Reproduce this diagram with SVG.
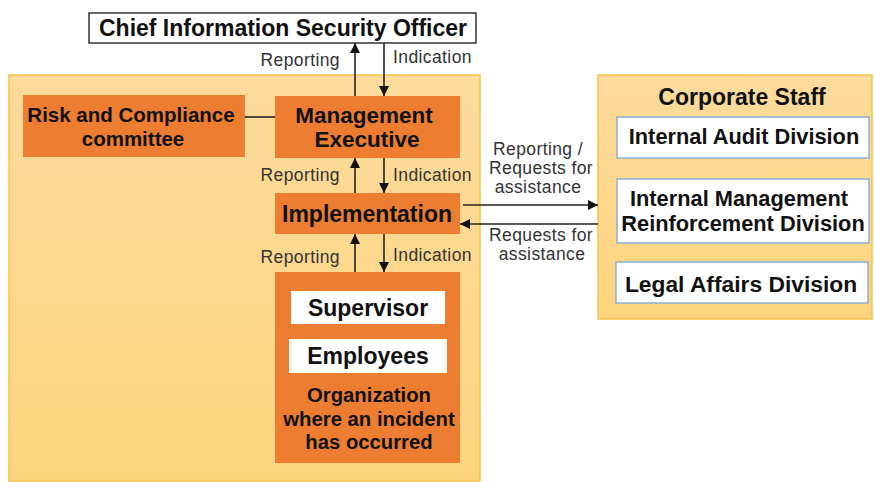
<svg xmlns="http://www.w3.org/2000/svg" width="875" height="482" viewBox="0 0 875 482">
<defs>
<linearGradient id="bg" x1="0" y1="0" x2="0" y2="1">
<stop offset="0" stop-color="#fddb9c"/>
<stop offset="1" stop-color="#fdd47e"/>
</linearGradient>
<marker id="ah" viewBox="0 0 10 10" refX="10" refY="5" markerWidth="10" markerHeight="10" markerUnits="userSpaceOnUse" orient="auto">
<path d="M0,0 L10,5 L0,10 Z" fill="#111"/>
</marker>
<style>
.cont{fill:url(#bg);stroke:#f8c24a;stroke-width:1.5}
.org{fill:#ed7d31}
.wb{fill:#fff}
.wbb{fill:#fff;stroke:#8cb0d6;stroke-width:1.5}
.t{font-family:"Liberation Sans",Arial,sans-serif;font-weight:bold;fill:#111;text-anchor:middle}
.lb{font-family:"Liberation Sans",Arial,sans-serif;font-size:17.5px;letter-spacing:0.4px;fill:#333}
.c{stroke:#222;stroke-width:1.6;fill:none}
.ca{stroke:#222;stroke-width:1.6;fill:none;marker-end:url(#ah)}
</style>
</defs>
<rect width="875" height="482" fill="#fff"/>
<g id="main-container"><rect class="cont" x="9" y="75" width="471" height="406"/></g>
<g id="corporate-staff">
<rect class="cont" x="598" y="75" width="274" height="244"/>
<text class="t" x="742" y="105" font-size="23">Corporate Staff</text>
</g>
<g id="ciso">
<rect x="89" y="13" width="387" height="30" fill="#fff" stroke="#333" stroke-width="1.5"/>
<text class="t" x="283" y="36" font-size="23">Chief Information Security Officer</text>
</g>
<g id="risk">
<rect class="org" x="23" y="95" width="222" height="62"/>
<text class="t" x="131" y="122" font-size="20.5">Risk and Compliance</text>
<text class="t" x="133" y="146" font-size="20.5">committee</text>
</g>
<g id="management">
<rect class="org" x="275" y="96" width="185" height="62"/>
<text class="t" x="364" y="123" font-size="22.5">Management</text>
<text class="t" x="367" y="147" font-size="22.5">Executive</text>
</g>
<g id="implementation">
<rect class="org" x="275" y="193" width="185" height="41"/>
<text class="t" x="367" y="222" font-size="23">Implementation</text>
</g>
<g id="organization">
<rect class="org" x="275" y="272" width="185" height="191"/>
<rect class="wb" x="291" y="291" width="154" height="33"/>
<text class="t" x="368" y="316" font-size="23">Supervisor</text>
<rect class="wb" x="289" y="339" width="158" height="34"/>
<text class="t" x="368" y="364" font-size="23">Employees</text>
<text class="t" x="369" y="402" font-size="20.3">Organization</text>
<text class="t" x="369" y="426" font-size="20.3">where an incident</text>
<text class="t" x="369" y="449" font-size="20.3">has occurred</text>
</g>
<g id="internal-audit">
<rect class="wbb" x="617" y="117" width="252" height="41"/>
<text class="t" x="744" y="144" font-size="21.8">Internal Audit Division</text>
</g>
<g id="internal-management">
<rect class="wbb" x="617" y="179" width="252" height="64"/>
<text class="t" x="739" y="206" font-size="21.8">Internal Management</text>
<text class="t" x="743" y="230.5" font-size="21.8">Reinforcement Division</text>
</g>
<g id="legal">
<rect class="wbb" x="616" y="262" width="252" height="41"/>
<text class="t" x="741" y="292" font-size="22.8">Legal Affairs Division</text>
</g>
<g id="connectors">
<line class="c" x1="245" y1="117" x2="275" y2="117"/>
<line class="ca" x1="355" y1="96" x2="355" y2="43"/>
<line class="ca" x1="384" y1="43" x2="384" y2="96"/>
<line class="ca" x1="355" y1="193" x2="355" y2="158"/>
<line class="ca" x1="384" y1="158" x2="384" y2="193"/>
<line class="ca" x1="355" y1="272" x2="355" y2="234"/>
<line class="ca" x1="384" y1="234" x2="384" y2="272"/>
<line class="ca" x1="463" y1="205" x2="598" y2="205"/>
<line class="ca" x1="598" y1="224" x2="460" y2="224"/>
<text class="lb" x="340" y="66" text-anchor="end">Reporting</text>
<text class="lb" x="393" y="63">Indication</text>
<text class="lb" x="340" y="181" text-anchor="end">Reporting</text>
<text class="lb" x="393" y="181">Indication</text>
<text class="lb" x="340" y="263" text-anchor="end">Reporting</text>
<text class="lb" x="393" y="261">Indication</text>
<text class="lb" x="538" y="155" text-anchor="middle">Reporting /</text>
<text class="lb" x="541" y="174" text-anchor="middle">Requests for</text>
<text class="lb" x="538" y="193" text-anchor="middle">assistance</text>
<text class="lb" x="541" y="241" text-anchor="middle">Requests for</text>
<text class="lb" x="542" y="260" text-anchor="middle">assistance</text>
</g>
</svg>
